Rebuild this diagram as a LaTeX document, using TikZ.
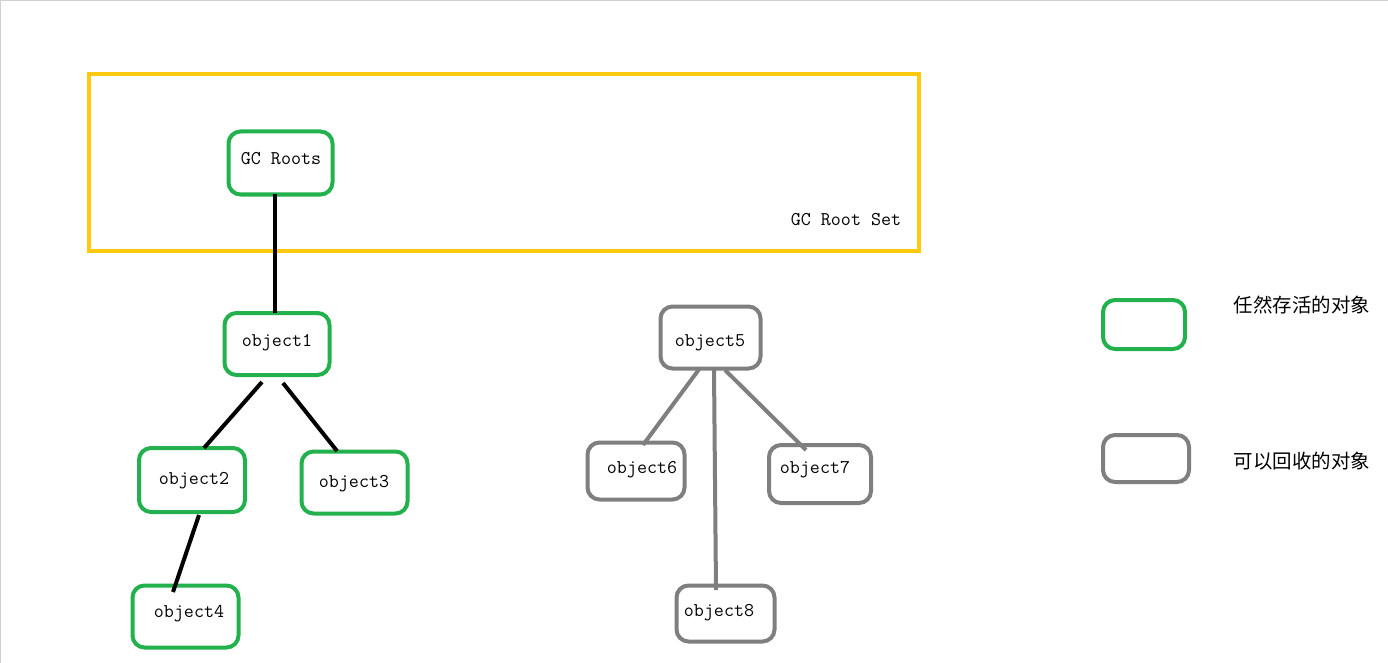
\documentclass[tikz,border=0pt]{standalone}
\usepackage{fontspec}
\newfontfamily\cjk{Noto Sans CJK SC}
\usetikzlibrary{positioning}
\definecolor{livegreen}{HTML}{22B14C}
\definecolor{deadgrey}{HTML}{7F7F7F}
\definecolor{rootyellow}{HTML}{FFC90E}
\definecolor{edgegrey}{HTML}{D0D0D0}
\tikzset{
  objbox/.style={draw, line width=3pt, rounded corners=9pt, inner sep=0pt},
  livebox/.style={objbox, draw=livegreen},
  deadbox/.style={objbox, draw=deadgrey},
  lbl/.style={inner sep=0pt, yshift=-1.5pt, font=\ttfamily\fontsize{14.6}{16}\selectfont},
  cjklbl/.style={inner sep=0pt, font=\cjk\fontsize{14.6}{16}\selectfont},
  liveedge/.style={line width=3pt, black},
  deadedge/.style={line width=3pt, deadgrey},
}
\begin{document}
\begin{tikzpicture}[x=0.75pt, y=-0.75pt]
\useasboundingbox (0,0) rectangle (1388,663);
\fill[white] (0,0) rectangle (1388,663);
\draw[edgegrey, line width=1.5pt] (0,663) -- (0,0) -- (1388,0);
% root set
\node[draw=rootyellow, line width=3pt, inner sep=0pt, minimum width=830*0.75pt, minimum height=177*0.75pt] (rootset) at (504,162.5) {};
\node[lbl] (rootsetlbl) at (846,218) {GC Root Set};
% live boxes
\node[livebox, minimum width=104*0.75pt, minimum height=63*0.75pt] (gcroots) at (280.5,163) {};
\node[lbl] (gcrootslbl) at (281,157) {GC Roots};
\node[livebox, minimum width=105*0.75pt, minimum height=62*0.75pt] (o1) at (277,344) {};
\node[lbl] (o1lbl) at (277,341) {object1};
\node[livebox, minimum width=106*0.75pt, minimum height=64*0.75pt] (o2) at (192,480) {};
\node[lbl] (o2lbl) at (194,479) {object2};
\node[livebox, minimum width=106*0.75pt, minimum height=62*0.75pt] (o3) at (354.5,482.5) {};
\node[lbl] (o3lbl) at (354,482) {object3};
\node[livebox, minimum width=106*0.75pt, minimum height=62*0.75pt] (o4) at (185.5,616.5) {};
\node[lbl] (o4lbl) at (189,612) {object4};
% dead boxes
\node[deadbox, minimum width=100*0.75pt, minimum height=62*0.75pt] (o5) at (710.5,337.5) {};
\node[lbl] (o5lbl) at (710,341) {object5};
\node[deadbox, minimum width=97*0.75pt, minimum height=57*0.75pt] (o6) at (636,471) {};
\node[lbl] (o6lbl) at (642,468) {object6};
\node[deadbox, minimum width=102*0.75pt, minimum height=58*0.75pt] (o7) at (820,474) {};
\node[lbl] (o7lbl) at (815,468) {object7};
\node[deadbox, minimum width=98*0.75pt, minimum height=56*0.75pt] (o8) at (725.5,613.5) {};
\node[lbl] (o8lbl) at (719,611) {object8};
% legend
\node[livebox, minimum width=82*0.75pt, minimum height=49*0.75pt] (leglive) at (1144,324.5) {};
\node[cjklbl] (leglivelbl) at (1302,305) {任然存活的对象};
\node[deadbox, minimum width=86*0.75pt, minimum height=47*0.75pt] (legdead) at (1146,458.5) {};
\node[cjklbl] (legdeadlbl) at (1302,461) {可以回收的对象};
% edges
\coordinate (e1a) at (275,194);
\coordinate (e1b) at (275,313);
\draw[liveedge] (e1a) -- (e1b);
\coordinate (e2a) at (262,382);
\coordinate (e2b) at (204,448);
\draw[liveedge] (e2a) -- (e2b);
\coordinate (e3a) at (283,383);
\coordinate (e3b) at (337,451);
\draw[liveedge] (e3a) -- (e3b);
\coordinate (e4a) at (199,515);
\coordinate (e4b) at (173,592);
\draw[liveedge] (e4a) -- (e4b);
\coordinate (e5a) at (700,368);
\coordinate (e5b) at (643,445);
\draw[deadedge] (e5a) -- (e5b);
\coordinate (e6a) at (714,370);
\coordinate (e6b) at (716,590);
\draw[deadedge] (e6a) -- (e6b);
\coordinate (e7a) at (725,370);
\coordinate (e7b) at (806,450);
\draw[deadedge] (e7a) -- (e7b);
\end{tikzpicture}
\end{document}
